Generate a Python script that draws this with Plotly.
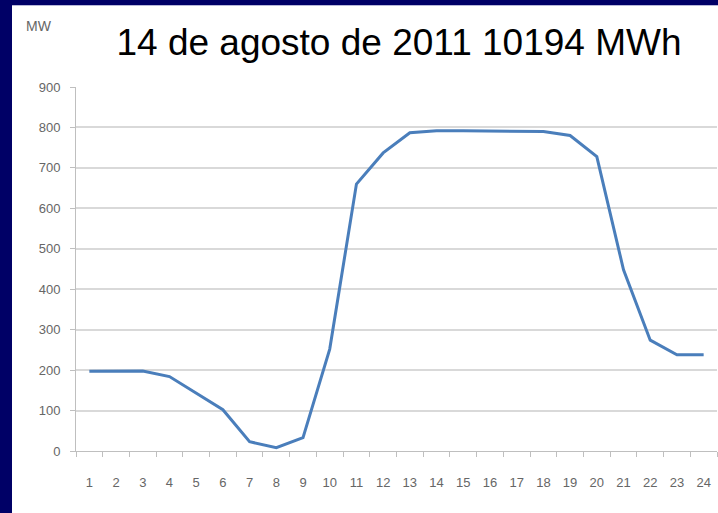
import plotly.graph_objects as go

hours = list(range(1, 25))
mw = [197, 198, 198, 184, 144, 102, 23, 8, 33, 252, 660, 737, 787, 792,
      792, 791, 790, 790, 780, 728, 448, 274, 238, 238]
y_ticks = [0, 100, 200, 300, 400, 500, 600, 700, 800, 900]
title_text = "14 de agosto de 2011 10194 MWh"
unit_text = "MW"

W, H = 718, 513
L, R, T, B = 76, 1, 87, 62
pw = W - L - R
ph = H - T - B

def px2x(px):
    return (px - L) / pw

def py2y(py):
    return 1 - (py - T) / ph

fig = go.Figure()
fig.add_trace(go.Scatter(
    x=hours, y=mw, mode="lines",
    line=dict(color="#4A7EBB", width=3),
    hoverinfo="x+y", showlegend=False,
))

tick_font = dict(family="Liberation Sans, Arial, sans-serif", size=13, color="#666666")

fig.update_layout(
    width=W, height=H,
    margin=dict(l=L, r=R, t=T, b=B, pad=0),
    paper_bgcolor="white", plot_bgcolor="white",
    title=dict(
        text=title_text,
        font=dict(family="Liberation Sans, Arial, sans-serif", size=37, color="black"),
        x=399 / W, xanchor="center", xref="container",
        y=1 - 42 / H, yanchor="middle", yref="container",
    ),
    xaxis=dict(
        range=[0.5, 24.5],
        tickmode="array", tickvals=hours, ticktext=[str(h) for h in hours],
        ticks="outside", ticklen=0, tickcolor="#bfbfbf",
        minor=dict(tickmode="linear", tick0=0.5, dtick=1, ticks="outside",
                   ticklen=5, tickcolor="#bfbfbf", tickwidth=1, showgrid=False),
        showgrid=False, zeroline=False,
        showline=True, linecolor="#bfbfbf", linewidth=1,
        tickfont=tick_font, ticklabelstandoff=19,
        fixedrange=True,
    ),
    yaxis=dict(
        range=[0, 900],
        tickmode="array", tickvals=y_ticks, ticktext=[str(v) for v in y_ticks],
        ticks="outside", ticklen=5, tickcolor="#bfbfbf",
        showgrid=True, gridcolor="#d9d9d9", gridwidth=2,
        zeroline=False,
        showline=True, linecolor="#bfbfbf", linewidth=1,
        tickfont=tick_font, ticklabelstandoff=7,
        fixedrange=True,
    ),
    shapes=[
        dict(type="rect", xref="paper", yref="paper",
             x0=px2x(0), x1=px2x(12), y0=py2y(H), y1=py2y(0),
             fillcolor="#000066", line=dict(width=0), layer="above"),
        dict(type="rect", xref="paper", yref="paper",
             x0=px2x(0), x1=px2x(W), y0=py2y(5), y1=py2y(0),
             fillcolor="#000066", line=dict(width=0), layer="above"),
        dict(type="rect", xref="paper", yref="paper",
             x0=px2x(12), x1=px2x(W), y0=py2y(6), y1=py2y(5),
             fillcolor="#b8b8d8", line=dict(width=0), layer="above"),
    ],
    annotations=[
        dict(text=unit_text, xref="paper", yref="paper",
             x=px2x(24), y=py2y(26), xanchor="left", yanchor="middle",
             showarrow=False,
             font=dict(family="Liberation Sans, Arial, sans-serif", size=14, color="#666666")),
    ],
)

fig.write_html(
    "out.html",
    config={"displayModeBar": False},
    post_script="document.body.style.margin='0';document.body.style.overflow='hidden';",
)
